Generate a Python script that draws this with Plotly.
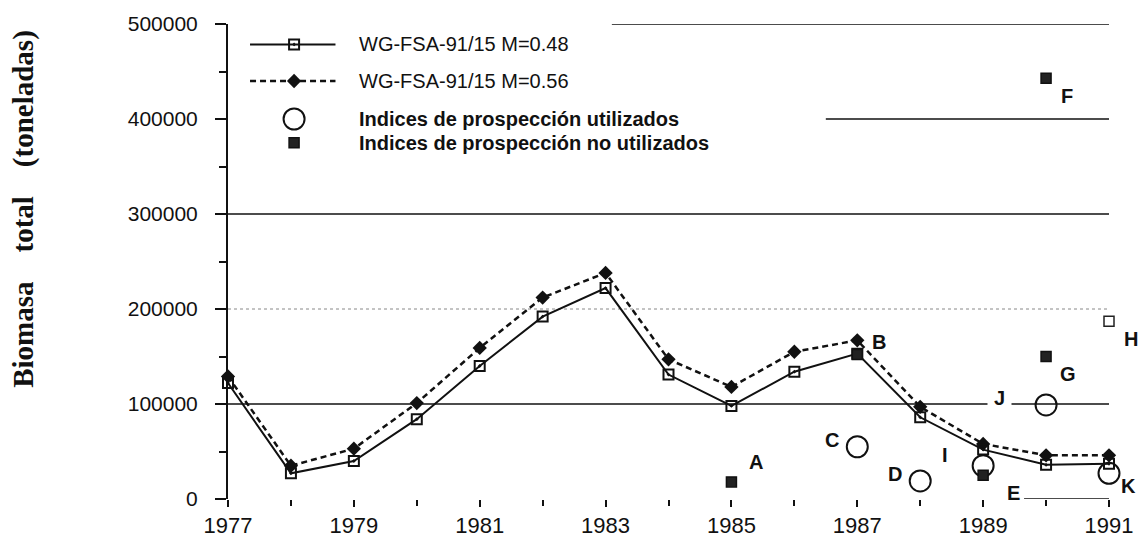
import plotly.graph_objects as go

# model series (WG-FSA-91/15)
years = list(range(1977, 1992))
biomass_m048 = [122000, 27000, 40000, 84000, 140000, 192000, 222000, 131000,
                98000, 134000, 153000, 86000, 52000, 36000, 37000]
biomass_m056 = [129000, 35000, 53000, 101000, 159000, 212000, 238000, 147000,
                118000, 155000, 167000, 97000, 58000, 46000, 46000]

# survey indices
used_years = [1987, 1988, 1989, 1990, 1991]
used_values = [55000, 19000, 35000, 99000, 27000]
used_labels = ['C', 'D', 'I', 'J', 'K']

unused_years = [1985, 1987, 1989, 1990, 1990, 1991]
unused_values = [18000, 152000, 25000, 443000, 150000, 187000]
unused_labels = ['A', 'B', 'E', 'F', 'G', 'H']

y_ticks = [0, 100000, 200000, 300000, 400000, 500000]
x_ticks = [1977, 1979, 1981, 1983, 1985, 1987, 1989, 1991]

legend_names = ['WG-FSA-91/15 M=0.48', 'WG-FSA-91/15 M=0.56',
                'Indices de prospección utilizados',
                'Indices de prospección no utilizados']

SANS = 'Arial, Liberation Sans, sans-serif'
SERIF = 'Times New Roman, Liberation Serif, serif'
BLACK = '#111111'

# pixel offsets of the letter labels from their point
label_offsets = {
    'A': (25, 20), 'B': (22, 13), 'C': (-25, 7), 'D': (-25, 7),
    'E': (30, -18), 'F': (21, -18), 'G': (22, -17), 'H': (22, -18),
    'I': (-38, 11), 'J': (-47, 7), 'K': (19, -13),
}

sq_marker = dict(symbol='square-open-dot', size=10, color=BLACK, line=dict(width=2, color=BLACK))
dia_marker = dict(symbol='diamond', size=11, color=BLACK)
circ_marker = dict(symbol='circle-open', size=21, color=BLACK, line=dict(width=2, color=BLACK))
fill_marker = dict(symbol='square', size=10, color='#222222', line=dict(width=1.5, color=BLACK))

fig = go.Figure()

fig.add_trace(go.Scatter(x=years, y=biomass_m056, mode='lines+markers',
                         line=dict(color=BLACK, width=2.5, dash='6px,4px'),
                         marker=dia_marker, cliponaxis=False, showlegend=False))
fig.add_trace(go.Scatter(x=years, y=biomass_m048, mode='lines+markers',
                         line=dict(color=BLACK, width=2),
                         marker=sq_marker, cliponaxis=False, showlegend=False))
fig.add_trace(go.Scatter(x=used_years, y=used_values, mode='markers',
                         marker=circ_marker, cliponaxis=False, showlegend=False))
unused_symbols = ['square-open' if lab == 'H' else 'square' for lab in unused_labels]
fig.add_trace(go.Scatter(x=unused_years, y=unused_values, mode='markers',
                         marker=dict(fill_marker, symbol=unused_symbols),
                         cliponaxis=False, showlegend=False))

# letter labels next to the survey points
for xs, ys, labs in [(used_years, used_values, used_labels),
                     (unused_years, unused_values, unused_labels)]:
    for x, y, lab in zip(xs, ys, labs):
        dx, dy = label_offsets[lab]
        fig.add_annotation(x=x, y=y, text=lab, showarrow=False,
                           xshift=dx, yshift=dy, xanchor='center', yanchor='middle',
                           bgcolor='white' if lab == 'J' else None, borderpad=6,
                           font=dict(family=SANS, size=20, color=BLACK, weight='bold'))

# gridlines (partly hidden behind the legend in the original)
grid_spans = {100000: 1977, 300000: 1977, 400000: 1986.5, 500000: 1983.1}
for yv, x0 in grid_spans.items():
    fig.add_shape(type='line', x0=x0, x1=1991, y0=yv, y1=yv, xref='x', yref='y',
                  line=dict(color=BLACK, width=1.5), layer='below')
fig.add_shape(type='line', x0=1977, x1=1991, y0=200000, y1=200000, xref='x', yref='y',
              line=dict(color='#888888', width=1, dash='dot'), layer='below')
# surviving piece of the baseline near E
fig.add_shape(type='line', x0=1989.65, x1=1991, y0=0, y1=0, xref='x', yref='y',
              line=dict(color=BLACK, width=1.5))

# hand made legend, placed in the upper left of the plot area
leg_y = [0.957, 0.88, 0.80, 0.75]
leg_markers = [sq_marker, dia_marker, circ_marker, fill_marker]
leg_dash = ['solid', '6px,4px', None, None]
for name, yy, mk, dash in zip(legend_names, leg_y, leg_markers, leg_dash):
    if dash:
        fig.add_shape(type='line', xref='paper', yref='paper', x0=0.025, x1=0.122,
                      y0=yy, y1=yy, line=dict(color=BLACK, width=2 if dash == 'solid' else 2.5, dash=dash))
    fig.add_trace(go.Scatter(x=[0.075], y=[yy], mode='markers', marker=mk,
                             xaxis='x2', yaxis='y2', showlegend=False, hoverinfo='skip'))
    fig.add_annotation(x=0.146, y=yy, xref='paper', yref='paper',
                       xanchor='left', yanchor='middle',
                       showarrow=False, text=name,
                       font=dict(family=SANS, size=20, color=BLACK,
                                 weight='bold' if 'Indices' in name else 'normal'))

fig.add_annotation(x=-0.232, y=0.61, xref='paper', yref='paper', textangle=-90,
                   xanchor='center', yanchor='middle', showarrow=False,
                   text='Biomasa\u00a0\u00a0\u00a0\u00a0total\u00a0\u00a0\u00a0\u00a0(toneladas)',
                   font=dict(family=SERIF, size=29, color=BLACK, weight='bold'))

fig.update_layout(
    width=1145, height=550,
    margin=dict(l=228, r=36, t=20, b=43),
    plot_bgcolor='white', paper_bgcolor='white',
    xaxis=dict(range=[1977, 1991], tickvals=x_ticks, showgrid=False, zeroline=False,
               showline=False, ticks='outside', ticklen=7, tickwidth=2, tickcolor=BLACK,
               minor=dict(dtick=1, ticks='outside', ticklen=6, tickwidth=2, tickcolor=BLACK),
               tickfont=dict(family=SANS, size=22, color=BLACK)),
    yaxis=dict(range=[0, 500000], tickvals=y_ticks, tickformat='d', showgrid=False,
               zeroline=False, showline=True, linewidth=2, linecolor=BLACK,
               ticks='outside', ticklen=11, tickwidth=2, tickcolor=BLACK,
               ticklabelstandoff=13,
               minor=dict(dtick=50000, ticks='outside', ticklen=7, tickwidth=2, tickcolor=BLACK),
               tickfont=dict(family=SANS, size=21, color=BLACK)),
    # inner half of the crossing major ticks
    yaxis3=dict(overlaying='y', anchor='x', range=[0, 500000], tickvals=y_ticks,
                showticklabels=False, showgrid=False, zeroline=False, showline=False,
                ticks='inside', ticklen=10, tickwidth=2, tickcolor=BLACK),
    xaxis2=dict(overlaying='x', range=[0, 1], visible=False),
    yaxis2=dict(overlaying='y', range=[0, 1], visible=False),
)

# drop the browser's default body margin so the figure sits at the page origin
fig.write_html('out.html', config={'displayModeBar': False},
               post_script="document.body.style.margin='0';")
